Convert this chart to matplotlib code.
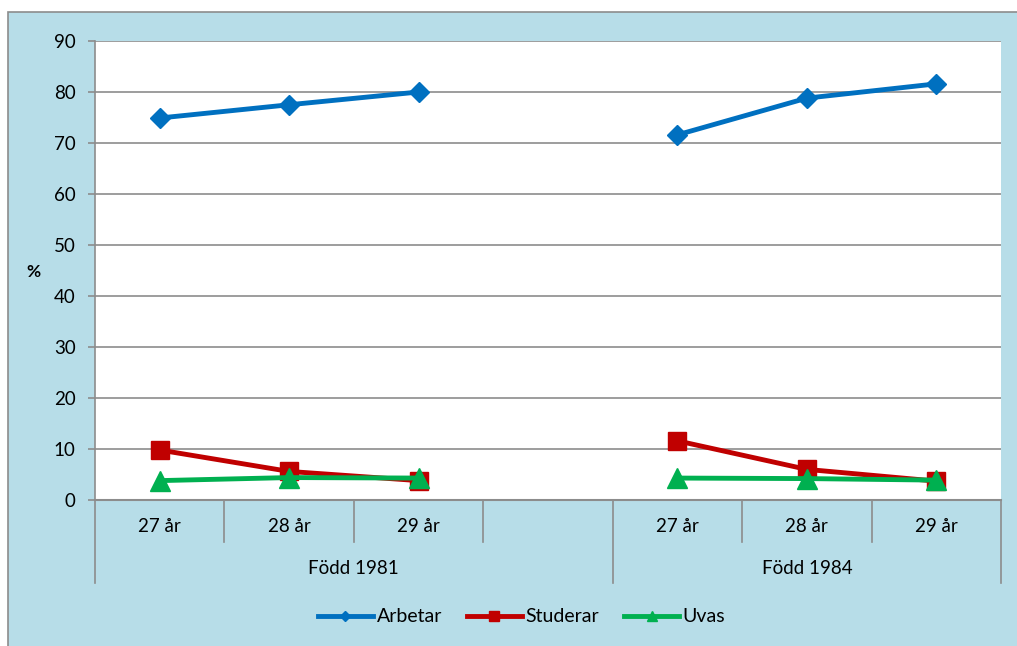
import numpy as np
import matplotlib.pyplot as plt
from matplotlib.patches import Rectangle
from matplotlib.lines import Line2D

plt.rcParams['font.family'] = ['Lato', 'DejaVu Sans']

ages = ['27 år', '28 år', '29 år', '', '27 år', '28 år', '29 år']
groups = ['Född 1981', 'Född 1984']
arbetar = [74.9, 77.5, 80.0, np.nan, 71.6, 78.8, 81.6]
studerar = [9.8, 5.6, 3.8, np.nan, 11.6, 6.0, 3.7]
uvas = [3.8, 4.4, 4.3, np.nan, 4.3, 4.2, 3.9]

W, H = 1017, 646
fig = plt.figure(figsize=(W / 100, H / 100), dpi=100)
fig.patch.set_facecolor('white')
fig.patches.append(Rectangle((8 / W, -0.01), 1.0, (H - 12) / H + 0.01, transform=fig.transFigure,
                             facecolor='#b7dde8', edgecolor='#8c8c8c', linewidth=1.2, zorder=-5))

x0, x1, ytop, ybot = 95, 1001, 41, 500
ax = fig.add_axes([x0 / W, (H - ybot) / H, (x1 - x0) / W, (ybot - ytop) / H])
ax.set_facecolor('white')

fs = 13.5
x = np.arange(len(ages))
ax.plot(x, arbetar, color='#0070c0', lw=3.5, marker='D', ms=10, label='Arbetar', zorder=3)
ax.plot(x, studerar, color='#c00000', lw=3.5, marker='s', ms=13.5, label='Studerar', zorder=3)
ax.plot(x, uvas, color='#00b050', lw=3.5, marker='^', ms=14.5, label='Uvas', zorder=4)

ax.set_xlim(-0.5, len(ages) - 0.5)
ax.set_ylim(0, 90)
ax.set_yticks(range(0, 91, 10))
ax.yaxis.grid(True, color='#8c8c8c', lw=1.2)
ax.set_axisbelow(True)
for s in ['top', 'right', 'bottom']:
    ax.spines[s].set_visible(False)
ax.spines['left'].set_color('#8c8c8c')
ax.spines['left'].set_linewidth(1.2)
ax.tick_params(axis='y', direction='out', length=5, width=1.2, color='#8c8c8c', pad=9, labelsize=fs)
ax.set_xticks([])

# category axis drawn by hand
h = ybot - ytop
short = -42 / h
long_ = -83 / h
for b in range(len(ages) + 1):
    xb = b - 0.5
    y_end = long_ if b in (0, 4, 7) else short
    ax.add_line(Line2D([xb, xb], [0, y_end], color='#8c8c8c', lw=1.2, clip_on=False,
                       transform=ax.get_xaxis_transform()))
ax.add_line(Line2D([-0.5, 6.5], [0, 0], color='#8c8c8c', lw=1.5, clip_on=False,
                   transform=ax.get_xaxis_transform()))
for i, lab in enumerate(ages):
    ax.text(i, -27 / h, lab, ha='center', va='center', fontsize=fs,
            transform=ax.get_xaxis_transform())
ax.text(1.5, -68 / h, groups[0], ha='center', va='center', fontsize=fs,
        transform=ax.get_xaxis_transform())
ax.text(5.0, -68 / h, groups[1], ha='center', va='center', fontsize=fs,
        transform=ax.get_xaxis_transform())

fig.text(33 / W, 1 - 272 / H, '%', ha='center', va='center', fontsize=12.5, fontweight='bold')

leg = fig.legend(loc='center', bbox_to_anchor=(0.513, 1 - 617 / H), ncol=3, frameon=False,
                 fontsize=14, handlelength=2.8, markerscale=0.5, columnspacing=1.3,
                 handletextpad=0.2)

fig.savefig('out.png', dpi=100, facecolor=fig.get_facecolor())
